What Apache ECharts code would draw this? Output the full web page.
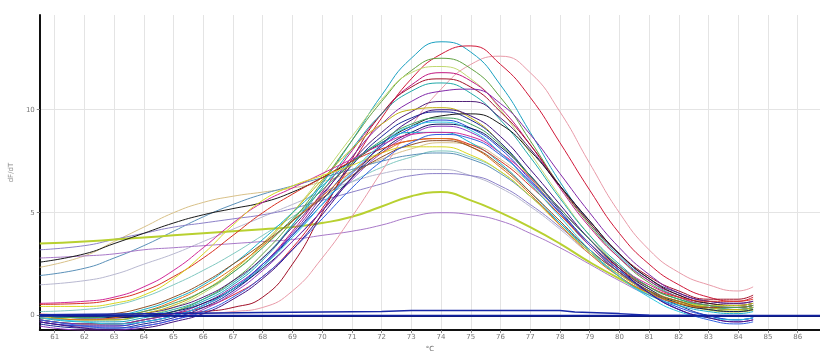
<!DOCTYPE html>
<html>
<head>
<meta charset="utf-8">
<script src="https://cdn.jsdelivr.net/npm/echarts@6/dist/echarts.min.js"></script>
<style>
  html, body { margin: 0; padding: 0; background: #fff; }
  #chart { width: 820px; height: 358px; }
</style>
</head>
<body>
<div id="chart"></div>
<script>
// temperature points (°C) for the melt curves
const temps = [60.5, 62, 63, 64, 65, 66, 67, 68, 69, 70, 71, 72, 73, 74, 75, 76, 77, 78, 79, 80, 81, 82, 83, 84, 84.5];
const xTicks = [61, 62, 63, 64, 65, 66, 67, 68, 69, 70, 71, 72, 73, 74, 75, 76, 77, 78, 79, 80, 81, 82, 83, 84, 85, 86];
const yTicks = [0, 5, 10];

// dF/dT per well
const wellTeal    = [-0.1,-0.3,-0.3,-0.1,0.2,0.7,1.5,2.7,4.4,6.4,8.5,10.7,12.5,13.3,12.8,11.2,8.9,6.5,4.5,2.9,1.7,0.9,0.5,0.3,0.4];
const wellCrimson = [-0.2,-0.4,-0.4,-0.2,0.1,0.4,1.0,1.9,3.3,5.2,7.4,9.6,11.5,12.7,13.1,12.2,10.6,8.4,6.1,4.0,2.5,1.5,0.9,0.7,0.9];
const wellRose    = [0.1,0.0,0.0,0.0,0.0,0.1,0.2,0.4,1.2,2.8,4.8,7.0,9.2,11.0,12.2,12.6,11.8,9.9,7.4,5.0,3.2,2.1,1.5,1.2,1.4];
const wellOlive   = [-0.2,-0.4,-0.4,-0.2,0.2,0.8,1.7,3.0,4.6,6.5,8.5,10.4,11.9,12.5,12.0,10.6,8.5,6.3,4.4,2.8,1.6,0.9,0.5,0.4,0.5];
const wellLime    = [0.0,-0.2,-0.2,0.0,0.4,1.1,2.1,3.4,5.0,6.8,8.7,10.5,11.8,12.1,11.5,10.0,7.9,5.8,3.9,2.4,1.4,0.8,0.5,0.4,0.5];
const wellMagenta = [-0.3,-0.5,-0.5,-0.3,0.0,0.5,1.3,2.5,4.1,6.0,8.0,9.8,11.2,11.8,11.4,10.1,8.3,6.2,4.3,2.8,1.7,1.0,0.6,0.5,0.6];
const wellDarkRed = [0.0,-0.1,-0.1,0.0,0.1,0.2,0.4,0.9,2.5,5.0,7.6,9.8,11.1,11.5,11.1,9.9,8.3,6.3,4.5,3.0,1.9,1.2,0.8,0.8,1.0];
const wellCyan    = [-0.1,-0.2,-0.2,0.0,0.3,0.8,1.6,2.8,4.4,6.2,8.1,9.8,10.9,11.3,10.8,9.5,7.7,5.7,3.9,2.5,1.4,0.8,0.4,0.3,0.4];
const wellPurple  = [-0.2,-0.4,-0.4,-0.2,0.1,0.6,1.4,2.5,4.0,5.8,7.7,9.3,10.4,10.9,11.0,10.3,8.8,6.9,5.0,3.3,2.0,1.1,0.7,0.6,0.7];
const wellPlum    = [0.0,-0.1,-0.1,0.1,0.4,0.9,1.7,2.8,4.3,5.9,7.5,8.9,9.9,10.4,10.4,9.6,8.1,6.3,4.6,3.0,1.8,1.1,0.7,0.6,0.7];
const wellMustard = [0.0,-0.2,-0.2,0.1,0.5,1.2,2.2,3.5,5.0,6.6,8.1,9.3,10.0,10.1,9.6,8.4,6.7,5.0,3.4,2.1,1.2,0.7,0.4,0.3,0.4];
const wellNavy    = [-0.4,-0.6,-0.6,-0.4,-0.1,0.4,1.2,2.4,3.9,5.6,7.3,8.7,9.6,9.9,9.5,8.4,6.8,5.1,3.5,2.2,1.2,0.5,0.0,-0.2,-0.1];
const wellBlack   = [2.6,3.0,3.5,4.0,4.5,4.9,5.2,5.5,6.0,6.7,7.5,8.4,9.2,9.7,9.8,9.3,8.0,6.3,4.6,3.0,1.8,1.0,0.6,0.5,0.6];
const wellBlue    = [-0.3,-0.5,-0.5,-0.3,0.0,0.5,1.3,2.5,3.9,5.4,6.9,8.2,9.1,9.5,9.1,8.1,6.6,5.0,3.4,2.1,1.1,0.4,0.0,-0.2,-0.1];
const wellInk     = [0.0,-0.1,-0.1,0.0,0.2,0.6,1.3,2.3,3.6,5.1,6.7,8.0,8.9,9.3,9.1,8.2,6.8,5.2,3.7,2.3,1.3,0.6,0.3,0.2,0.3];
const wellViolet  = [-0.5,-0.7,-0.7,-0.5,-0.2,0.3,1.1,2.2,3.6,5.1,6.6,7.9,8.8,9.2,8.9,7.9,6.5,5.0,3.4,2.1,1.1,0.3,-0.1,-0.3,-0.2];
const wellAqua    = [0.0,-0.1,0.0,0.3,0.8,1.5,2.5,3.7,5.0,6.3,7.5,8.4,8.9,8.9,8.4,7.4,6.0,4.5,3.1,1.9,1.0,0.5,0.2,0.1,0.2];
const wellPink    = [0.6,0.7,0.9,1.4,2.2,3.3,4.5,5.5,6.2,6.9,7.6,8.3,8.8,8.9,8.7,7.9,6.7,5.2,3.7,2.4,1.5,0.9,0.5,0.4,0.5];
const wellRed     = [0.55,0.6,0.8,1.2,1.9,2.8,3.9,5.0,5.9,6.7,7.5,8.1,8.5,8.6,8.3,7.5,6.3,4.9,3.5,2.3,1.4,0.9,0.7,0.7,0.8];
const wellYellow  = [0.45,0.45,0.6,1.0,1.8,3.0,4.4,5.6,6.3,6.8,7.3,7.9,8.2,8.2,7.8,7.0,5.8,4.4,3.1,2.0,1.2,0.7,0.5,0.5,0.6];
const wellOrange  = [-0.1,-0.2,-0.1,0.2,0.7,1.4,2.3,3.4,4.6,5.8,7.0,7.9,8.5,8.6,8.2,7.2,5.9,4.4,3.0,1.9,1.1,0.6,0.4,0.4,0.5];
const wellBrown   = [0.0,0.0,0.1,0.4,0.9,1.6,2.5,3.5,4.6,5.7,6.8,7.7,8.3,8.5,8.2,7.3,6.0,4.6,3.2,2.1,1.2,0.7,0.4,0.4,0.5];
const wellTan     = [2.35,2.9,3.6,4.3,5.0,5.5,5.8,6.0,6.2,6.5,7.0,7.6,8.1,8.4,8.3,7.6,6.4,4.9,3.4,2.2,1.3,0.7,0.4,0.3,0.4];
const wellSteel   = [1.95,2.3,2.8,3.4,4.1,4.8,5.4,5.9,6.3,6.7,7.1,7.5,7.8,7.9,7.6,6.9,5.8,4.5,3.2,2.1,1.2,0.7,0.4,0.3,0.4];
const wellGray    = [1.5,1.7,2.0,2.5,3.0,3.6,4.2,4.8,5.4,6.0,6.5,6.9,7.1,7.1,6.8,6.2,5.3,4.2,3.0,2.0,1.2,0.7,0.5,0.4,0.5];
const wellLilac   = [3.2,3.4,3.7,4.0,4.3,4.5,4.7,4.9,5.2,5.6,6.0,6.4,6.8,6.9,6.8,6.3,5.4,4.3,3.1,2.0,1.2,0.7,0.4,0.3,0.4];
const wellChart   = [3.5,3.6,3.7,3.8,3.9,4.0,4.1,4.2,4.3,4.5,4.8,5.3,5.8,6.0,5.6,5.0,4.3,3.5,2.6,1.8,1.1,0.6,0.3,0.2,0.3];
const wellMauve   = [2.8,2.9,3.0,3.2,3.3,3.4,3.5,3.6,3.7,3.9,4.1,4.4,4.8,5.0,4.9,4.6,4.0,3.3,2.5,1.7,1.0,0.6,0.4,0.3,0.4];
const wellRoyal   = [-0.2,-0.5,-0.6,-0.5,-0.2,0.2,0.9,1.9,3.2,4.7,6.2,7.5,8.4,8.8,8.6,7.8,6.5,5.0,3.5,2.2,1.1,0.3,-0.2,-0.4,-0.3];
const wellSky     = [-0.1,-0.3,-0.4,-0.3,0.0,0.5,1.3,2.4,3.8,5.4,7.0,8.3,9.2,9.4,9.0,7.9,6.4,4.8,3.2,1.9,0.9,0.2,-0.1,-0.2,-0.1];
const wellIndigo  = [-0.3,-0.6,-0.7,-0.6,-0.3,0.1,0.8,1.8,3.2,4.9,6.7,8.3,9.5,10.0,9.7,8.7,7.1,5.4,3.7,2.3,1.1,0.3,-0.1,-0.3,-0.2];
const wellGreen   = [0.0,-0.1,0.0,0.2,0.6,1.2,2.1,3.3,4.7,6.1,7.4,8.5,9.3,9.6,9.3,8.3,6.8,5.2,3.7,2.4,1.4,0.8,0.5,0.4,0.5];
const wellMint    = [0.2,0.3,0.5,0.9,1.5,2.2,3.0,3.9,4.8,5.7,6.5,7.2,7.7,8.0,7.7,7.0,5.8,4.5,3.1,2.0,1.2,0.6,0.4,0.3,0.4];

// no-template controls
const ntcTemps = [60.5, 65, 68, 72, 73, 78, 78.5, 80, 81, 84.5];
const ntcA = [0.05, 0.1, 0.15, 0.2, 0.25, 0.25, 0.18, 0.1, 0.02, 0.0];
const flatTemps = [60.5, 86.75];
const ntcB = [0.0, 0.0];

const wells = [
  [wellMint, '#80c8c0', 1], [wellGray, '#b8b8d0', 1], [wellTan, '#d8c088', 1], [wellSteel, '#5a90b8', 1],
  [wellLilac, '#8c80c8', 1], [wellMauve, '#a878c8', 1], [wellChart, '#b8d030', 2],
  [wellRose, '#e89aa8', 1], [wellTeal, '#1aa0c0', 1], [wellCrimson, '#d01838', 1], [wellOlive, '#60a040', 1],
  [wellLime, '#c0d870', 1], [wellMagenta, '#c01880', 1], [wellDarkRed, '#a01028', 1], [wellCyan, '#20a8a8', 1],
  [wellPurple, '#8028a8', 1], [wellPlum, '#502078', 1], [wellMustard, '#c0b010', 1], [wellNavy, '#1a2898', 1],
  [wellBlack, '#181818', 1], [wellBlue, '#2048d8', 1], [wellInk, '#101860', 1], [wellViolet, '#9038c0', 1],
  [wellAqua, '#18b0c8', 1], [wellPink, '#d02898', 1], [wellRed, '#d83020', 1], [wellYellow, '#d8d820', 1],
  [wellOrange, '#e07018', 1], [wellBrown, '#905028', 1], [wellRoyal, '#3060e0', 1], [wellSky, '#30c8e0', 1],
  [wellIndigo, '#401080', 1], [wellGreen, '#40a060', 1]
];

const series = wells.map(([vals, color, width]) => ({
  type: 'line',
  smooth: true,
  showSymbol: false,
  silent: true,
  lineStyle: { color: color, width: width },
  data: temps.map((t, i) => [t, vals[i]])
}));
series.push({
  type: 'line', showSymbol: false, silent: true,
  lineStyle: { color: '#1828a8', width: 1.5 },
  data: ntcTemps.map((t, i) => [t, ntcA[i]])
});
series.push({
  type: 'line', showSymbol: false, silent: true,
  lineStyle: { color: '#1020a0', width: 2 },
  data: flatTemps.map((t, i) => [t, ntcB[i]])
});

const chart = echarts.init(document.getElementById('chart'));
chart.setOption({
  backgroundColor: '#fff',
  animation: false,
  grid: { left: 34, top: 15, right: 0, bottom: 21 },
  xAxis: [
    {
      type: 'value',
      min: 60.5,
      max: 86.75,
      name: '°C',
      nameLocation: 'middle',
      nameGap: 13,
      nameTextStyle: { color: '#666', fontSize: 7, fontFamily: 'DejaVu Sans' },
      axisLine: { show: true, onZero: false, lineStyle: { color: '#111', width: 2 } },
      axisTick: { show: true, length: 3, customValues: xTicks, lineStyle: { color: '#888' } },
      axisLabel: { customValues: xTicks, color: '#777', fontSize: 7, margin: 4, fontFamily: 'DejaVu Sans' },
      splitLine: { show: true, lineStyle: { color: '#e4e4e4', width: 1 } }
    },
    {
      type: 'value',
      position: 'top',
      min: 60.5,
      max: 86.75,
      axisLine: { show: true, lineStyle: { color: '#111', width: 2 } },
      axisTick: { show: false },
      axisLabel: { show: false },
      splitLine: { show: false }
    }
  ],
  yAxis: {
    type: 'value',
    min: -0.7,
    max: 14.6,
    name: 'dF/dT',
    nameLocation: 'middle',
    nameGap: 20,
    nameRotate: 90,
    nameTextStyle: { color: '#888', fontSize: 7, fontFamily: 'DejaVu Sans' },
    axisLine: { show: true, lineStyle: { color: '#111', width: 2 } },
    axisTick: { show: true, length: 3, customValues: yTicks, lineStyle: { color: '#888' } },
    axisLabel: { customValues: yTicks, color: '#777', fontSize: 7, margin: 5, fontFamily: 'DejaVu Sans' },
    splitLine: { show: true, lineStyle: { color: '#e4e4e4', width: 1 } }
  },
  series: series
});
</script>
</body>
</html>
